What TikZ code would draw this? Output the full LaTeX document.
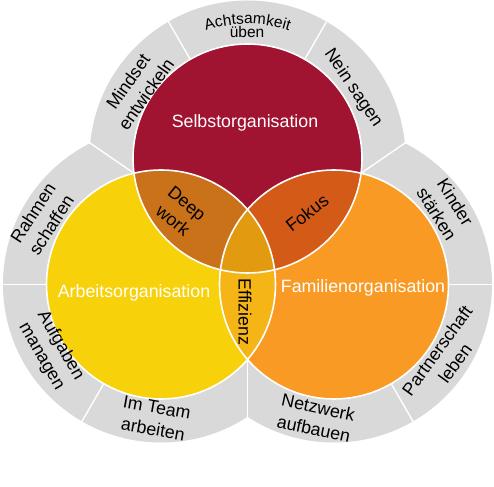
\documentclass[tikz,border=0pt]{standalone}
\usepackage{fontspec}
\setmainfont{Liberation Sans}
\usetikzlibrary{calc,decorations.text}
\definecolor{ringgray}{HTML}{D9D9D9}
\definecolor{cred}{HTML}{A11431}
\definecolor{cyel}{HTML}{F7D10A}
\definecolor{cora}{HTML}{F89A24}
\definecolor{cry}{HTML}{CA721A}
\definecolor{cro}{HTML}{D35A17}
\definecolor{cyo}{HTML}{F6B517}
\definecolor{ctri}{HTML}{E29B10}
\tikzset{
  sep/.style={white, line width=1.4pt},
  outline/.style={white, line width=1.6pt},
  ringtext/.style={font=\fontsize{17.8}{22}\selectfont, align=center, text=black, inner sep=0pt},
  lenstext/.style={font=\fontsize{17.8}{22}\selectfont, align=center, text=black, inner sep=0pt},
  maintext/.style={font=\fontsize{17.8}{22}\selectfont, text=white, inner sep=0pt},
}
\begin{document}
\begin{tikzpicture}[x=1pt,y=1pt]
\useasboundingbox[fill=white] (0,0) rectangle (494,486);
\coordinate (R) at (247.5,327.5);
\coordinate (Y) at (161,201.5);
\coordinate (O) at (334,201.5);
% grey ring (union of outer disks)
\fill[ringgray] (R) circle[radius=158] (Y) circle[radius=158] (O) circle[radius=158];
% ring separators between circles
\coordinate (ryi) at (133.95,312.76); \coordinate (ryo) at (89.5,343.3);
\coordinate (roi) at (361.05,312.76); \coordinate (roo) at (405.5,343.3);
\coordinate (yoi) at (247.5,126.48);  \coordinate (yoo) at (247.5,68);
\draw[sep] (ryi) -- (ryo);
\draw[sep] (roi) -- (roo);
\draw[sep] (yoi) -- (yoo);
% radial separators
\draw[sep] ($(R)+(60:114)$) -- ($(R)+(60:160)$);
\draw[sep] ($(R)+(120:114)$) -- ($(R)+(120:160)$);
\draw[sep] ($(Y)+(180:114)$) -- ($(Y)+(180:160)$);
\draw[sep] ($(Y)+(240:114)$) -- ($(Y)+(240:160)$);
\draw[sep] ($(O)+(0:114)$) -- ($(O)+(0:160)$);
\draw[sep] ($(O)+(300:114)$) -- ($(O)+(300:160)$);
% main circles
\fill[cred] (R) circle[radius=114.5];
\fill[cyel] (Y) circle[radius=114.5];
\fill[cora] (O) circle[radius=114.5];
\begin{scope}
  \clip (Y) circle[radius=114.5];
  \fill[cyo] (O) circle[radius=114.5];
\end{scope}
\begin{scope}
  \clip (R) circle[radius=114.5];
  \fill[cry] (Y) circle[radius=114.5];
  \fill[cro] (O) circle[radius=114.5];
  \clip (Y) circle[radius=114.5];
  \fill[ctri] (O) circle[radius=114.5];
\end{scope}
\draw[outline] (R) circle[radius=114.5];
\draw[outline] (Y) circle[radius=114.5];
\draw[outline] (O) circle[radius=114.5];
% main labels
\node[maintext] (selbst) at (245,363) {Selbstorganisation};
\node[maintext] (arbeit) at (134,193) {Arbeitsorganisation};
\node[maintext] (familie) at (363,198) {Familienorganisation};
% lens labels
\node[lenstext, rotate=-39] (deep) at (180,274) {Deep\\work};
\node[lenstext, rotate=38] (fokus) at (307,273) {Fokus};
\node[lenstext, rotate=-90] (effizienz) at (245,174) {Effizienz};
% ring labels
\path[decorate, decoration={text along path, text align=center,
  text={|\fontsize{15.5}{18}\selectfont|Achtsamkeit}}]
  ($(R)+(125:134.5)$) arc[start angle=125, end angle=55, radius=134.5];
\node[font=\fontsize{15.5}{18}\selectfont, inner sep=0pt, anchor=base] (ueben) at (247,448) {üben};
\node[ringtext, rotate=55] (mindset) at (137,398) {Mindset\\entwickeln};
\node[ringtext, rotate=-56] (nein) at (353,398) {Nein sagen};
\node[ringtext, rotate=57] (rahmen) at (42,267) {Rahmen\\schaffen};
\node[ringtext, rotate=-60] (aufgaben) at (51,135) {Aufgaben\\managen};
\node[ringtext, rotate=-10] (team) at (155,67.5) {Im Team\\arbeiten};
\node[ringtext, rotate=-12] (netzwerk) at (316,68) {Netzwerk\\aufbauen};
\node[ringtext, rotate=54] (partner) at (446,129) {Partnerschaft\\leben};
\node[ringtext, rotate=-58] (kinder) at (446,278) {Kinder\\stärken};
\end{tikzpicture}
\end{document}
